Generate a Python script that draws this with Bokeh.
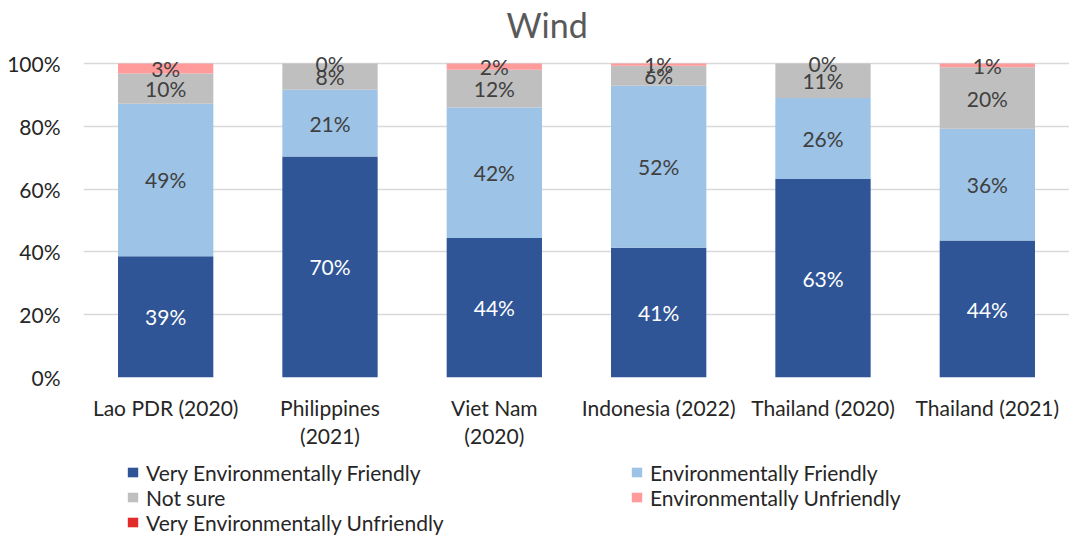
from bokeh.plotting import figure
from bokeh.layouts import column
from bokeh.models import (ColumnDataSource, FactorRange, Legend, LegendItem,
                          PrintfTickFormatter, FixedTicker, Range1d)
from bokeh.core.properties import value
from bokeh.embed import file_html
from bokeh.resources import INLINE

# ---------------- data ----------------
categories = ["Lao PDR (2020)", "Philippines\n(2021)", "Viet Nam\n(2020)",
              "Indonesia (2022)", "Thailand (2020)", "Thailand (2021)"]
very_friendly = [38.6, 70.4, 44.4, 41.3, 63.2, 43.6]
friendly = [48.6, 21.2, 41.6, 51.6, 25.8, 35.6]
not_sure = [9.6, 8.4, 12.0, 6.4, 11.0, 19.6]
unfriendly = [3.2, 0.0, 2.0, 0.7, 0.0, 1.2]
very_unfriendly = [0.0, 0.0, 0.0, 0.0, 0.0, 0.0]

series_names = ["Very Environmentally Friendly", "Environmentally Friendly",
                "Not sure", "Environmentally Unfriendly",
                "Very Environmentally Unfriendly"]
series_keys = ["vef", "ef", "ns", "eu", "veu"]
series_colors = ["#2F5597", "#9DC3E6", "#BFBFBF", "#FF9B9B", "#E32B2B"]
label_colors = ["#FFFFFF", "#404040", "#404040", "#404040"]
y_ticks = [0, 20, 40, 60, 80, 100]

FONT = "Lato"

source = ColumnDataSource(dict(cat=categories, vef=very_friendly, ef=friendly,
                               ns=not_sure, eu=unfriendly, veu=very_unfriendly))

# y range extends a little above 100% to leave room for the title
p = figure(x_range=FactorRange(*categories), y_range=Range1d(0, 105.4),
           width=1069, height=462, output_backend="svg", toolbar_location=None,
           min_border_left=83, min_border_right=0, min_border_top=46,
           min_border_bottom=85)
p.outline_line_color = None

renderers = p.vbar_stack(series_keys, x="cat", width=0.58, source=source,
                         color=series_colors, line_color=None)

# data labels (first four series)
lx, ly, lt, lc = [], [], [], []
series_vals = [very_friendly, friendly, not_sure, unfriendly]
for i, cat in enumerate(categories):
    base = 0.0
    for s, vals in enumerate(series_vals):
        v = vals[i]
        lx.append(cat)
        ly.append(base + v / 2)
        lt.append(f"{round(v)}%")
        lc.append(label_colors[s])
        base += v
lab_src = ColumnDataSource(dict(x=lx, y=ly, t=lt, c=lc))
p.text(x="x", y="y", text="t", text_color="c", source=lab_src,
       text_align="center", text_baseline="middle",
       text_font=value(FONT), text_font_size="21px")

# axes
p.yaxis.ticker = FixedTicker(ticks=y_ticks)
p.yaxis.formatter = PrintfTickFormatter(format="%d%%")
for ax in (p.xaxis[0], p.yaxis[0]):
    ax.axis_line_color = None
    ax.major_tick_line_color = None
    ax.minor_tick_line_color = None
    ax.major_tick_out = 0
    ax.major_tick_in = 0
    ax.minor_tick_out = 0
    ax.major_label_text_font = FONT
    ax.major_label_text_font_size = "21px"
    ax.major_label_text_color = "#262626"
p.yaxis.major_label_standoff = 23
p.xaxis.major_label_standoff = 17
p.xaxis.major_label_text_line_height = 1.15
p.xgrid.grid_line_color = None
p.ygrid.grid_line_color = "#D9D9D9"
p.ygrid.grid_line_width = 1.5

# title
p.title.text = "Wind"
p.title.align = "left"
p.title.offset = 423
p.title.text_font = FONT
p.title.text_font_size = "34px"
p.title.text_font_style = "normal"
p.title.text_color = "#595959"
p.title.standoff = 0
p.title.vertical_align = "top"

# legend in its own strip below the chart
lg = figure(width=1069, height=74, output_backend="svg", toolbar_location=None,
            x_range=Range1d(0, 1), y_range=Range1d(0, 1),
            x_axis_type=None, y_axis_type=None,
            min_border_left=0, min_border_right=0, min_border_top=0,
            min_border_bottom=0)
lg.outline_line_color = None
lg.xgrid.visible = False
lg.ygrid.visible = False
swatches = [lg.vbar(x=[0.5], top=[0], bottom=[0], width=0, color=c, line_color=None)
            for c in series_colors]
items = [LegendItem(label=n, renderers=[r]) for n, r in zip(series_names, swatches)]
legend = Legend(items=items, orientation="horizontal", ncols=2,
                location=(43, 1.5), margin=0, padding=0, spacing=0,
                glyph_width=13, glyph_height=12, label_standoff=7,
                label_width=484, label_height=25,
                label_text_font=FONT, label_text_font_size="21px",
                label_text_color="#262626", border_line_color=None,
                background_fill_alpha=0)
lg.add_layout(legend)

page = column(p, lg, spacing=0)
open("out.html", "w").write(file_html(page, INLINE))
